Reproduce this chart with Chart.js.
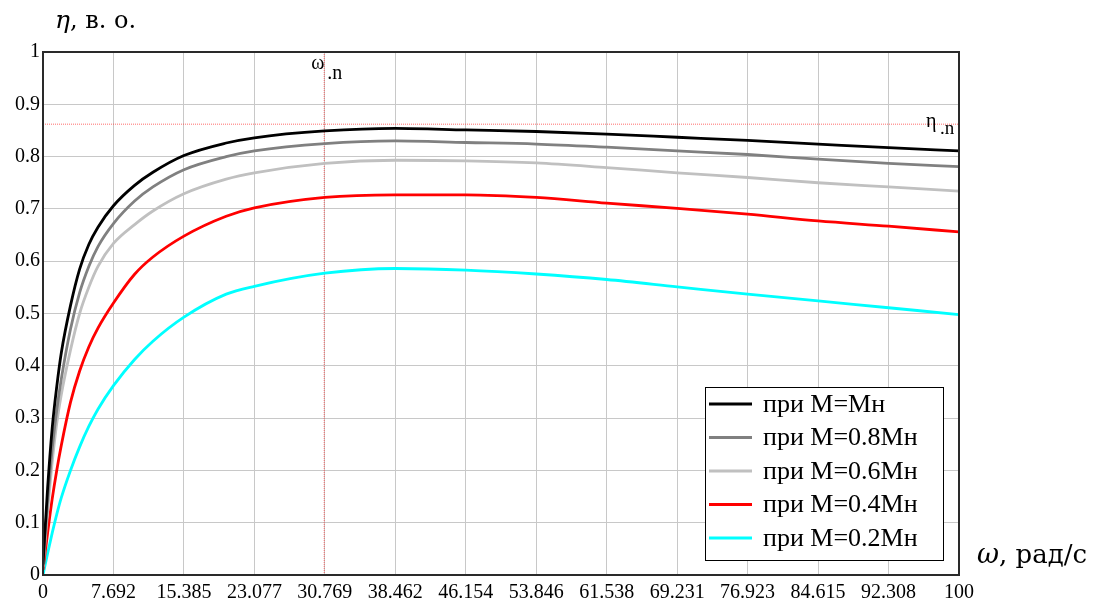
<!DOCTYPE html>
<html>
<head>
<meta charset="utf-8">
<script src="https://cdn.jsdelivr.net/npm/chart.js@4/dist/chart.umd.min.js"></script>
<style>
    html, body { margin: 0; padding: 0; background: #fff; }
    #wrap { width: 1111px; height: 610px; }
</style>
</head>
<body>
<div id="wrap"><canvas id="etaChart" width="1111" height="610"></canvas></div>
<script>
// omega, rad/s
const omega = [0, 0.5, 1, 1.5, 2, 3, 4, 5, 6, 7.692, 10, 12, 15.385, 20, 23.077,
    30.769, 38.462, 46.154, 53.846, 61.538, 69.231, 76.923, 84.615, 92.308, 100];

// efficiency for each load
const etaM10 = [0.02, 0.165, 0.28, 0.36, 0.425, 0.515, 0.585, 0.632, 0.665, 0.706, 0.745, 0.770, 0.802, 0.826, 0.836,
    0.849, 0.854, 0.851, 0.848, 0.843, 0.837, 0.831, 0.824, 0.817, 0.811];
const etaM08 = [0.02, 0.14, 0.24, 0.315, 0.375, 0.47, 0.54, 0.59, 0.628, 0.672, 0.715, 0.742, 0.775, 0.800, 0.811,
    0.825, 0.830, 0.827, 0.824, 0.818, 0.811, 0.804, 0.795, 0.787, 0.781];
const etaM06 = [0.015, 0.12, 0.215, 0.29, 0.345, 0.43, 0.5, 0.55, 0.59, 0.634, 0.670, 0.696, 0.729, 0.757, 0.769,
    0.787, 0.793, 0.792, 0.788, 0.779, 0.769, 0.760, 0.750, 0.742, 0.734];
const etaM04 = [0.01, 0.08, 0.145, 0.2, 0.248, 0.33, 0.39, 0.436, 0.472, 0.52, 0.575, 0.608, 0.648, 0.686, 0.702,
    0.722, 0.727, 0.727, 0.722, 0.711, 0.701, 0.690, 0.677, 0.667, 0.656];
const etaM02 = [0, 0.041, 0.08, 0.116, 0.148, 0.2, 0.245, 0.284, 0.317, 0.362, 0.412, 0.447, 0.493, 0.537, 0.552,
    0.577, 0.586, 0.583, 0.5755, 0.565, 0.551, 0.537, 0.524, 0.511, 0.498];

const seriesNames = ['при M=Mн', 'при M=0.8Mн', 'при M=0.6Mн', 'при M=0.4Mн', 'при M=0.2Mн'];
const seriesColors = ['#000000', '#808080', '#c0c0c0', '#ff0000', '#00ffff'];

// nominal point
const omegaN = 30.7;
const etaN = 0.862;

const xTicks = [0, 7.692, 15.385, 23.077, 30.769, 38.462, 46.154, 53.846, 61.538, 69.231, 76.923, 84.615, 92.308, 100];
const xTickLabels = ['0', '7.692', '15.385', '23.077', '30.769', '38.462', '46.154', '53.846', '61.538', '69.231', '76.923', '84.615', '92.308', '100'];
const yTicks = [0, 0.1, 0.2, 0.3, 0.4, 0.5, 0.6, 0.7, 0.8, 0.9, 1];
const yTickLabels = ['0', '0.1', '0.2', '0.3', '0.4', '0.5', '0.6', '0.7', '0.8', '0.9', '1'];

const FONT = 'Liberation Serif';
const TITLE_FONT = 'DejaVu Serif';

function toPoints(ys) {
    return omega.map((w, i) => ({ x: w, y: ys[i] }));
}

const curves = [etaM10, etaM08, etaM06, etaM04, etaM02];

const datasets = curves.map((ys, i) => ({
    label: seriesNames[i],
    data: toPoints(ys),
    borderColor: seriesColors[i],
    borderWidth: 2.8,
    pointRadius: 0,
    cubicInterpolationMode: 'monotone',
    fill: false,
    order: i
}));

datasets.push({
    label: 'omegaN',
    data: [{ x: omegaN, y: 0 }, { x: omegaN, y: 1 }],
    borderColor: 'rgba(255, 60, 60, 0.75)',
    borderWidth: 1,
    borderDash: [1, 1],
    pointRadius: 0,
    order: 10
});
datasets.push({
    label: 'etaN',
    data: [{ x: 0, y: etaN }, { x: 100, y: etaN }],
    borderColor: 'rgba(255, 60, 60, 0.75)',
    borderWidth: 1,
    borderDash: [1, 1],
    pointRadius: 0,
    order: 10
});

const decorPlugin = {
    id: 'decor',
    afterDraw(chart) {
        const ctx = chart.ctx;
        const area = chart.chartArea;
        const xs = chart.scales.x;
        ctx.save();

        // frame
        ctx.strokeStyle = '#2a2a2a';
        ctx.lineWidth = 2;
        ctx.strokeRect(area.left, area.top, area.right - area.left, area.bottom - area.top);

        // axis titles
        ctx.fillStyle = '#000';
        ctx.textBaseline = 'alphabetic';
        ctx.textAlign = 'left';
        ctx.font = 'italic 25px ' + TITLE_FONT;
        ctx.fillText('η', 55, 28);
        let w = ctx.measureText('η').width;
        ctx.font = '24px ' + TITLE_FONT;
        ctx.fillText(', в. о.', 55 + w, 28);

        ctx.font = 'italic 27px ' + TITLE_FONT;
        ctx.fillText('ω', 977, 563);
        w = ctx.measureText('ω').width;
        ctx.font = '26px ' + TITLE_FONT;
        ctx.fillText(', рад/с', 977 + w, 563);

        // nominal marks
        const px = xs.getPixelForValue(omegaN);
        ctx.font = '20px ' + FONT;
        ctx.fillText('ω', px - 13, 69);
        ctx.fillText('.n', px + 3, 79);
        ctx.fillText('η', area.right - 33, 127);
        ctx.font = '19px ' + FONT;
        ctx.fillText('.n', area.right - 19, 134);

        // legend box
        const bx = 705, by = 387, bw = 238, bh = 173;
        ctx.fillStyle = '#fff';
        ctx.fillRect(bx, by, bw, bh);
        ctx.strokeStyle = '#000';
        ctx.lineWidth = 1;
        ctx.strokeRect(bx + 0.5, by + 0.5, bw, bh);
        ctx.font = '26px ' + FONT;
        ctx.textBaseline = 'middle';
        seriesNames.forEach((name, i) => {
            const cy = by + 17 + i * 33.5;
            ctx.strokeStyle = seriesColors[i];
            ctx.lineWidth = 2.8;
            ctx.beginPath();
            ctx.moveTo(bx + 4, cy);
            ctx.lineTo(bx + 47, cy);
            ctx.stroke();
            ctx.fillStyle = '#000';
            ctx.fillText(name, bx + 58, cy + 1);
        });
        ctx.restore();
    }
};

new Chart(document.getElementById('etaChart'), {
    type: 'line',
    data: { datasets: datasets },
    options: {
        responsive: false,
        animation: false,
        layout: {
            padding: { left: 0, top: 52, right: 152, bottom: 0 }
        },
        plugins: {
            legend: { display: false },
            tooltip: { enabled: false }
        },
        scales: {
            x: {
                type: 'linear',
                min: 0,
                max: 100,
                afterBuildTicks: s => { s.ticks = xTicks.map(v => ({ value: v })); },
                afterFit: s => { s.height = 35; },
                ticks: {
                    color: '#000',
                    padding: 6,
                    maxRotation: 0,
                    autoSkip: false,
                    font: { family: FONT, size: 20 },
                    callback: (v, i) => xTickLabels[i]
                },
                grid: { color: '#c8c8c8', lineWidth: 1, drawTicks: false },
                border: { display: false }
            },
            y: {
                min: 0,
                max: 1,
                afterBuildTicks: s => { s.ticks = yTicks.map(v => ({ value: v })); },
                afterFit: s => { s.width = 43; },
                ticks: {
                    color: '#000',
                    padding: 3,
                    font: { family: FONT, size: 20 },
                    callback: (v, i) => yTickLabels[i]
                },
                grid: { color: '#c8c8c8', lineWidth: 1, drawTicks: false },
                border: { display: false }
            }
        }
    },
    plugins: [decorPlugin]
});
</script>
</body>
</html>
